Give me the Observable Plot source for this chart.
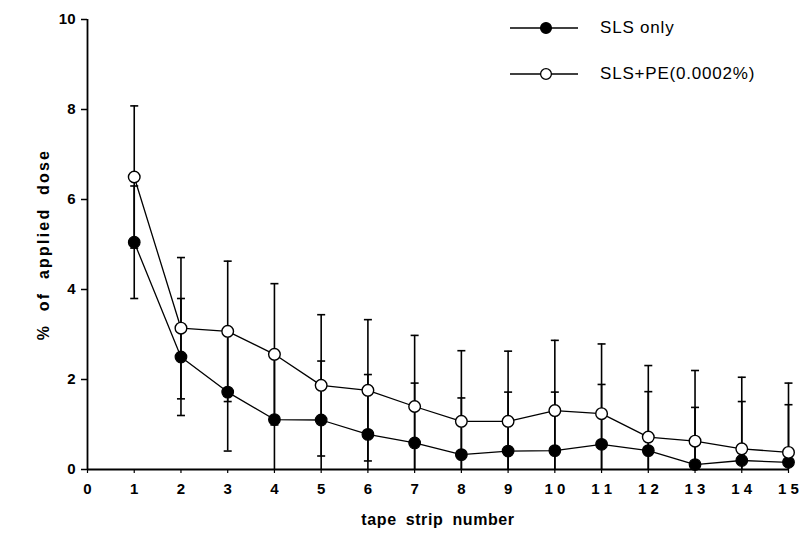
<!DOCTYPE html>
<html>
<head>
<meta charset="utf-8">
<script src="https://cdn.jsdelivr.net/npm/d3@7"></script>
<script src="https://cdn.jsdelivr.net/npm/@observablehq/plot@0.6"></script>
<style>
  html, body { margin: 0; padding: 0; background: #fff; }
  #wrap { position: relative; width: 800px; height: 556px; font-family: "Liberation Sans", Arial, sans-serif; }
  #wrap svg { display: block; }
  g[aria-label="text"] text { letter-spacing: 0.6px; word-spacing: 4px; }
  g[aria-label="text"] text[transform*="rotate"] { letter-spacing: 2.2px; word-spacing: 6px; }
  .legend { position: absolute; left: 508px; top: 14px; font-size: 17px; letter-spacing: 0.8px; color: #000; }
  .legend .row { display: flex; align-items: center; height: 28px; margin-bottom: 18px; }
  .legend .row span { margin-left: 20px; }
</style>
</head>
<body>
<div id="wrap"></div>
<script>
const strips = [1, 2, 3, 4, 5, 6, 7, 8, 9, 10, 11, 12, 13, 14, 15];
const slsOnly   = [5.05, 2.50, 1.72, 1.11, 1.10, 0.78, 0.59, 0.33, 0.41, 0.42, 0.56, 0.42, 0.11, 0.20, 0.16];
const slsOnlySD = [1.25, 1.30, 1.31, 1.40, 1.31, 1.33, 1.33, 1.26, 1.31, 1.30, 1.33, 1.31, 1.27, 1.31, 1.28];
const slsPE     = [6.50, 3.14, 3.07, 2.56, 1.87, 1.76, 1.40, 1.07, 1.07, 1.31, 1.24, 0.72, 0.63, 0.46, 0.38];
const slsPESD   = [1.58, 1.57, 1.56, 1.57, 1.57, 1.57, 1.58, 1.57, 1.56, 1.56, 1.55, 1.59, 1.57, 1.59, 1.54];
const seriesNames = ["SLS only", "SLS+PE(0.0002%)"];
const xTicks = [0, 1, 2, 3, 4, 5, 6, 7, 8, 9, 10, 11, 12, 13, 14, 15];
const xTickLabels = ["0", "1", "2", "3", "4", "5", "6", "7", "8", "9", "1 0", "1 1", "1 2", "1 3", "1 4", "1 5"];
const yTicks = [0, 2, 4, 6, 8, 10];
const xLabel = "tape strip number";
const yLabel = "% of applied dose";

const rowsA = strips.map((s, i) => ({strip: s, series: seriesNames[0], v: slsOnly[i], sd: slsOnlySD[i]}));
const rowsB = strips.map((s, i) => ({strip: s, series: seriesNames[1], v: slsPE[i], sd: slsPESD[i]}));
const rows = rowsA.concat(rowsB);
const caps = [];
rows.forEach(d => {
  caps.push({strip: d.strip, y: d.v + d.sd});
  if (d.v - d.sd >= 0) caps.push({strip: d.strip, y: d.v - d.sd});
});

const capSymbol = {
  draw(ctx, size) {
    const r = Math.sqrt(size / Math.PI);
    ctx.moveTo(-r, 0);
    ctx.lineTo(r, 0);
  }
};

const chart = Plot.plot({
  width: 800,
  height: 556,
  marginTop: 19,
  marginBottom: 87,
  marginLeft: 87,
  marginRight: 12,
  style: {fontFamily: "'Liberation Sans', Arial, sans-serif", fontSize: "15px", fontWeight: "bold", color: "#000"},
  x: {domain: [0, 15]},
  y: {domain: [0, 10]},
  marks: [
    Plot.axisX({ticks: xTicks, tickFormat: (d, i) => xTickLabels[i], tickSize: 4, tickPadding: 10, label: null, stroke: "#000", strokeWidth: 1.2}),
    Plot.axisY({ticks: yTicks, tickSize: 6, tickPadding: 6, label: null, stroke: "#000", strokeWidth: 1.5}),
    Plot.ruleX([0], {y1: 0, y2: 10, stroke: "#000", strokeWidth: 1.8}),
    Plot.ruleY([0], {stroke: "#000", strokeWidth: 1.8}),
    Plot.ruleX(rows, {x: "strip", y1: d => Math.max(0, d.v - d.sd), y2: d => d.v + d.sd, stroke: "#000", strokeWidth: 1.6}),
    Plot.dot(caps, {x: "strip", y: "y", r: 4, symbol: capSymbol, stroke: "#000", strokeWidth: 1.6, fill: "none"}),
    Plot.line(rows, {x: "strip", y: "v", z: "series", stroke: "#000", strokeWidth: 1.3}),
    Plot.dot(rowsA, {x: "strip", y: "v", r: 5.8, fill: "#000", stroke: "#000", strokeWidth: 1.2}),
    Plot.dot(rowsB, {x: "strip", y: "v", r: 5.8, fill: "#fff", stroke: "#000", strokeWidth: 1.4}),
    Plot.text([xLabel], {frameAnchor: "bottom", textAnchor: "middle", dy: 55, fontSize: 16, fontWeight: "bold", fill: "#000"}),
    Plot.text([yLabel], {frameAnchor: "left", textAnchor: "middle", dx: -44, rotate: -90, fontSize: 16, fontWeight: "bold", fill: "#000"})
  ]
});

const wrap = document.getElementById("wrap");
wrap.appendChild(chart);

const legend = document.createElement("div");
legend.className = "legend";
const legendItems = [
  {name: seriesNames[0], fill: "#000"},
  {name: seriesNames[1], fill: "#fff"}
];
legendItems.forEach(it => {
  const row = document.createElement("div");
  row.className = "row";
  row.innerHTML = `<svg width="72" height="14"><line x1="2" x2="70" y1="7" y2="7" stroke="#000" stroke-width="1.3"/><circle cx="38" cy="7" r="5.4" fill="${it.fill}" stroke="#000" stroke-width="1.3"/></svg><span>${it.name}</span>`;
  legend.appendChild(row);
});
wrap.appendChild(legend);
</script>
</body>
</html>
